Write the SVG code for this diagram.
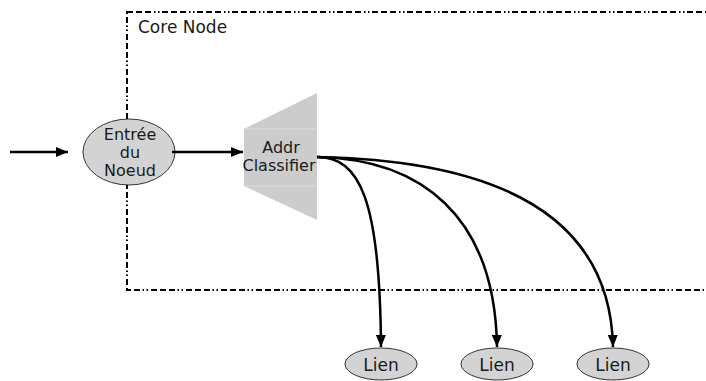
<svg xmlns="http://www.w3.org/2000/svg" width="706" height="381" viewBox="0 0 706 381">
<style>
.txt{font-family:"DejaVu Sans","Liberation Sans",sans-serif;font-size:16px;fill:#1a1a1a;text-anchor:middle}
.lbl{font-size:17px}
.node{fill:#d3d3d3;stroke:#333;stroke-width:1}
.conn{fill:none;stroke:#000;stroke-width:2.5}
.box{fill:none;stroke:#000;stroke-width:2;stroke-dasharray:6,3,6,3,6,3,1.5,2.5,1.5,2.5}
</style>
<defs>
<marker id="ah" viewBox="0 0 12 10" refX="12" refY="5" markerWidth="12" markerHeight="10" markerUnits="userSpaceOnUse" orient="auto">
<path d="M0,0 L12,5 L0,10 z" fill="#000"/>
</marker>
</defs>
<rect width="706" height="381" fill="#fff"/>
<g id="core-node">
<rect class="box" x="127" y="12" width="620" height="278"/>
<text class="txt lbl" x="138" y="33" style="text-anchor:start">Core Node</text>
</g>
<g id="entree">
<ellipse class="node" cx="129" cy="152" rx="46" ry="33"/>
<text class="txt" x="130" y="140">Entrée</text>
<text class="txt" x="130" y="158">du</text>
<text class="txt" x="130" y="176">Noeud</text>
</g>
<g id="classifier">
<polygon points="244,129 317,93 317,220 244,186" fill="#cccccc"/>
<line x1="244" y1="129" x2="317" y2="129" stroke="#dcdcdc" stroke-width="1"/>
<line x1="244" y1="186" x2="317" y2="186" stroke="#dcdcdc" stroke-width="1"/>
<text class="txt" x="281" y="153">Addr</text>
<text class="txt" x="279" y="171">Classifier</text>
</g>
<g id="lien1">
<ellipse class="node" cx="381" cy="364" rx="36" ry="16"/>
<text class="txt lbl" x="381" y="371">Lien</text>
</g>
<g id="lien2">
<ellipse class="node" cx="497" cy="364" rx="36" ry="16"/>
<text class="txt lbl" x="497" y="371">Lien</text>
</g>
<g id="lien3">
<ellipse class="node" cx="613" cy="364" rx="36" ry="16"/>
<text class="txt lbl" x="613" y="371">Lien</text>
</g>
<g id="connectors">
<line class="conn" x1="10" y1="152" x2="68" y2="152" marker-end="url(#ah)"/>
<line class="conn" x1="172" y1="152" x2="243" y2="152" marker-end="url(#ah)"/>
<path class="conn" d="M317,157 C360,157 380,200 381,347" marker-end="url(#ah)"/>
<path class="conn" d="M317,157 C420,159 495,215 497,347" marker-end="url(#ah)"/>
<path class="conn" d="M317,157 C480,160 610,205 613,347" marker-end="url(#ah)"/>
</g>
</svg>
